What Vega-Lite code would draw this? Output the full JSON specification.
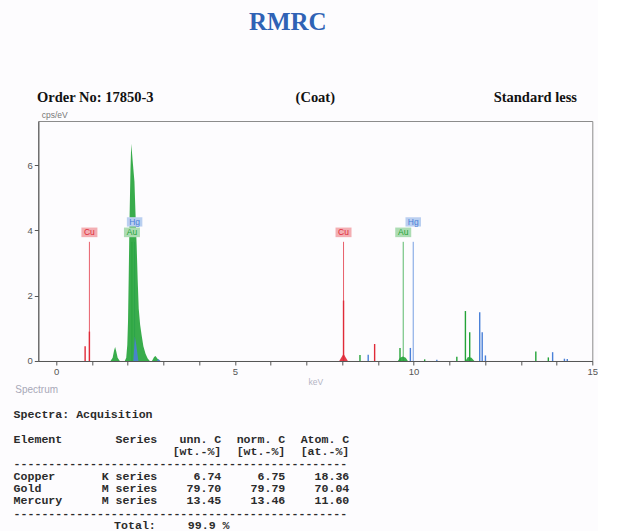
{
  "$schema": "https://vega.github.io/schema/vega-lite/v6.json",
  "background": "#fdfcfe",
  "padding": {"left": 13.3, "top": 0, "right": 0, "bottom": 0},
  "spacing": 0,
  "bounds": "flush",
  "config": {"view": {"stroke": null}, "font": "Liberation Sans"},
  "datasets": {
    "lines": [
      {"e": "Cu", "kev": 0.93},
      {"e": "Au", "kev": 2.12},
      {"e": "Hg", "kev": 2.195},
      {"e": "Cu", "kev": 8.04},
      {"e": "Au", "kev": 9.71},
      {"e": "Hg", "kev": 9.99}
    ],
    "peaks": [
      {"e": "Cu", "kev": 0.81, "cps": 0.45},
      {"e": "Cu", "kev": 0.93, "cps": 0.9},
      {"e": "Cu", "kev": 8.04, "cps": 1.85},
      {"e": "Cu", "kev": 8.91, "cps": 0.52},
      {"e": "Au", "kev": 8.5, "cps": 0.18},
      {"e": "Au", "kev": 9.62, "cps": 0.4},
      {"e": "Au", "kev": 10.31, "cps": 0.05},
      {"e": "Au", "kev": 11.21, "cps": 0.13},
      {"e": "Au", "kev": 11.45, "cps": 1.53},
      {"e": "Au", "kev": 11.57, "cps": 0.88},
      {"e": "Au", "kev": 13.42, "cps": 0.29},
      {"e": "Au", "kev": 13.77, "cps": 0.11},
      {"e": "Hg", "kev": 8.73, "cps": 0.19},
      {"e": "Hg", "kev": 9.91, "cps": 0.4},
      {"e": "Hg", "kev": 10.65, "cps": 0.04},
      {"e": "Hg", "kev": 11.85, "cps": 1.49},
      {"e": "Hg", "kev": 11.92, "cps": 0.88},
      {"e": "Hg", "kev": 12.01, "cps": 0.17},
      {"e": "Hg", "kev": 13.89, "cps": 0.27},
      {"e": "Hg", "kev": 14.22, "cps": 0.07},
      {"e": "Hg", "kev": 14.3, "cps": 0.06}
    ],
    "spec": [
      {"e": "Cu", "kev": 7.92, "cps": 0},
      {"e": "Cu", "kev": 8.04, "cps": 0.22},
      {"e": "Cu", "kev": 8.16, "cps": 0},
      {"e": "Au", "kev": 1.52, "cps": 0},
      {"e": "Au", "kev": 1.58, "cps": 0.1},
      {"e": "Au", "kev": 1.62, "cps": 0.32},
      {"e": "Au", "kev": 1.65, "cps": 0.43},
      {"e": "Au", "kev": 1.68, "cps": 0.3},
      {"e": "Au", "kev": 1.72, "cps": 0.1},
      {"e": "Au", "kev": 1.78, "cps": 0},
      {"e": "Au", "kev": 1.92, "cps": 0},
      {"e": "Au", "kev": 1.96, "cps": 0.1},
      {"e": "Au", "kev": 1.99, "cps": 0.5},
      {"e": "Au", "kev": 2.01, "cps": 1.2},
      {"e": "Au", "kev": 2.03, "cps": 2.6},
      {"e": "Au", "kev": 2.05, "cps": 4.2},
      {"e": "Au", "kev": 2.08, "cps": 5.9},
      {"e": "Au", "kev": 2.1, "cps": 6.65},
      {"e": "Au", "kev": 2.12, "cps": 6.4},
      {"e": "Au", "kev": 2.15, "cps": 6.0},
      {"e": "Au", "kev": 2.19, "cps": 5.5},
      {"e": "Au", "kev": 2.22, "cps": 4.5},
      {"e": "Au", "kev": 2.25, "cps": 3.6},
      {"e": "Au", "kev": 2.28, "cps": 2.5},
      {"e": "Au", "kev": 2.31, "cps": 1.6},
      {"e": "Au", "kev": 2.35, "cps": 1.1},
      {"e": "Au", "kev": 2.39, "cps": 0.8},
      {"e": "Au", "kev": 2.44, "cps": 0.45},
      {"e": "Au", "kev": 2.5, "cps": 0.22},
      {"e": "Au", "kev": 2.56, "cps": 0.08},
      {"e": "Au", "kev": 2.62, "cps": 0},
      {"e": "Au", "kev": 2.68, "cps": 0},
      {"e": "Au", "kev": 2.74, "cps": 0.12},
      {"e": "Au", "kev": 2.78, "cps": 0.15},
      {"e": "Au", "kev": 2.83, "cps": 0.08},
      {"e": "Au", "kev": 2.9, "cps": 0},
      {"e": "Au", "kev": 9.56, "cps": 0},
      {"e": "Au", "kev": 9.62, "cps": 0.1},
      {"e": "Au", "kev": 9.7, "cps": 0.14},
      {"e": "Au", "kev": 9.78, "cps": 0.1},
      {"e": "Au", "kev": 9.84, "cps": 0},
      {"e": "Au", "kev": 11.45, "cps": 0},
      {"e": "Au", "kev": 11.52, "cps": 0.12},
      {"e": "Au", "kev": 11.62, "cps": 0.1},
      {"e": "Au", "kev": 11.7, "cps": 0},
      {"e": "Hg", "kev": 2.16, "cps": 0},
      {"e": "Hg", "kev": 2.2, "cps": 0.75},
      {"e": "Hg", "kev": 2.24, "cps": 0.5},
      {"e": "Hg", "kev": 2.3, "cps": 0},
      {"e": "Hg", "kev": 2.82, "cps": 0},
      {"e": "Hg", "kev": 2.86, "cps": 0.06},
      {"e": "Hg", "kev": 2.92, "cps": 0}
    ],
    "tab": [
      {"Element": "Copper", "Series": "K series", "unn": 6.74, "norm": 6.75, "atom": 18.36},
      {"Element": "Gold", "Series": "M series", "unn": 79.70, "norm": 79.79, "atom": 70.04},
      {"Element": "Mercury", "Series": "M series", "unn": 13.45, "norm": 13.46, "atom": 11.60}
    ]
  },
  "vconcat": [
    {
      "width": 554,
      "height": 121,
      "layer": [
        {
          "data": {"values": [{"t": "RMRC"}]},
          "mark": {"type": "text", "font": "Liberation Serif", "fontWeight": "bold", "fontSize": 25, "color": "#2f62b5", "baseline": "alphabetic", "dx": -27.5, "dy": -30.5},
          "encoding": {"text": {"field": "t"}}
        },
        {
          "data": {"values": [{"t": "Order No: 17850-3"}, {"t": "(Coat)"}, {"t": "Standard less"}]},
          "mark": {"type": "text", "font": "Liberation Serif", "fontWeight": "bold", "fontSize": 14.5, "color": "#111111", "baseline": "alphabetic", "dy": 41},
          "encoding": {
            "x": {"field": "t", "type": "nominal", "scale": {"type": "point", "domain": ["Order No: 17850-3", "(Coat)", "Standard less"], "padding": 0.259}, "axis": null},
            "text": {"field": "t"}
          }
        }
      ]
    },
    {
      "width": 554,
      "height": 240,
      "view": {"stroke": "#8c8c8c", "strokeWidth": 1},
      "encoding": {
        "x": {
          "field": "kev", "type": "quantitative",
          "scale": {"domain": [-0.5, 15], "nice": false, "zero": false},
          "axis": {
            "title": "keV", "values": [0,1,2,3,4,5,6,7,8,9,10,11,12,13,14,15],
            "labelExpr": "datum.value % 5 === 0 ? datum.label : ''",
            "grid": false, "tickSize": 4, "labelFontSize": 9.5, "labelColor": "#555555",
            "domainColor": "#555555", "tickColor": "#555555", "labelFlush": false, "labelOverlap": false,
            "labelPadding": 2, "titleFontSize": 8.5, "titleColor": "#b4b4c4", "titleFontWeight": "normal", "titlePadding": 1
          }
        }
      },
      "layer": [
        {
          "data": {"name": "lines"},
          "mark": {"type": "rule", "strokeWidth": 1, "opacity": 0.75},
          "encoding": {
            "y": {"datum": 0, "type": "quantitative",
              "scale": {"domain": [0, 7.35], "nice": false},
              "axis": {
                "title": "cps/eV", "values": [0,0.5,1,1.5,2,2.5,3,3.5,4,4.5,5,5.5,6,6.5,7],
                "labelExpr": "datum.value % 2 === 0 ? datum.label : ''",
                "grid": false, "tickSize": 4, "labelFontSize": 9.5, "labelColor": "#555555",
                "domainColor": "#555555", "tickColor": "#555555", "labelFlush": false, "labelOverlap": false,
                "labelPadding": 2, "titleAngle": 0, "titleAlign": "left", "titleBaseline": "bottom",
                "titleX": 3, "titleY": -2, "titleFontSize": 8.5, "titleFontWeight": "normal", "titleColor": "#777777"
              }
            },
            "y2": {"datum": 3.65},
            "color": {"field": "e", "type": "nominal", "scale": {"domain": ["Cu", "Au", "Hg"], "range": ["#e02a38", "#24a338", "#4a80d8"]}, "legend": null}
          }
        },
        {
          "data": {"name": "spec"},
          "mark": {"type": "area", "opacity": 0.9, "interpolate": "linear"},
          "encoding": {
            "y": {"field": "cps", "type": "quantitative", "stack": null},
            "color": {"field": "e", "type": "nominal", "legend": null}
          }
        },
        {
          "data": {"name": "peaks"},
          "mark": {"type": "rule", "strokeWidth": 1.4},
          "encoding": {
            "y": {"field": "cps", "type": "quantitative"},
            "y2": {"datum": 0},
            "color": {"field": "e", "type": "nominal", "legend": null}
          }
        },
        {
          "data": {"name": "lines"},
          "transform": [{"filter": "datum.e !== 'Hg'"}],
          "mark": {"type": "point", "shape": "M-1,-0.6H1V0.6H-1Z", "size": 256, "filled": true, "opacity": 1, "fill": "#ffffff", "color": "#ffffff", "strokeWidth": 0},
          "encoding": {
            "y": {"datum": 3.94, "type": "quantitative"}
          }
        },
        {
          "data": {"name": "lines"},
          "transform": [{"filter": "datum.e !== 'Hg'"}],
          "mark": {"type": "point", "shape": "M-1,-0.6H1V0.6H-1Z", "size": 256, "filled": true, "opacity": 0.38, "strokeWidth": 0},
          "encoding": {
            "y": {"datum": 3.94, "type": "quantitative"},
            "color": {"field": "e", "type": "nominal", "legend": null}
          }
        },
        {
          "data": {"name": "lines"},
          "transform": [{"filter": "datum.e !== 'Hg'"}],
          "mark": {"type": "text", "fontSize": 8.5, "baseline": "middle", "align": "center"},
          "encoding": {
            "y": {"datum": 3.94, "type": "quantitative"},
            "text": {"field": "e"},
            "color": {"field": "e", "type": "nominal", "legend": null}
          }
        },
        {
          "data": {"name": "lines"},
          "transform": [{"filter": "datum.e === 'Hg'"}],
          "mark": {"type": "point", "shape": "M-1,-0.6H1V0.6H-1Z", "size": 240, "filled": true, "opacity": 1, "fill": "#ffffff", "color": "#ffffff", "strokeWidth": 0},
          "encoding": {
            "y": {"datum": 4.26, "type": "quantitative"}
          }
        },
        {
          "data": {"name": "lines"},
          "transform": [{"filter": "datum.e === 'Hg'"}],
          "mark": {"type": "point", "shape": "M-1,-0.6H1V0.6H-1Z", "size": 240, "filled": true, "opacity": 0.38, "strokeWidth": 0},
          "encoding": {
            "y": {"datum": 4.26, "type": "quantitative"},
            "color": {"field": "e", "type": "nominal", "legend": null}
          }
        },
        {
          "data": {"name": "lines"},
          "transform": [{"filter": "datum.e === 'Hg'"}],
          "mark": {"type": "text", "fontSize": 8.5, "baseline": "middle", "align": "center"},
          "encoding": {
            "y": {"datum": 4.26, "type": "quantitative"},
            "text": {"field": "e"},
            "color": {"field": "e", "type": "nominal", "legend": null}
          }
        }
      ]
    },
    {
      "width": 554,
      "height": 170,
      "layer": [
        {
          "data": {"values": [{"row": "cap", "t": "Spectrum"}]},
          "mark": {"type": "text", "font": "Liberation Sans", "fontSize": 10, "color": "#a8a8b8", "align": "left", "baseline": "middle", "dx": -142},
          "encoding": {
            "x": {"datum": "Series", "type": "nominal", "scale": {"type": "point", "domain": ["Series", "unn", "norm", "atom"], "range": [119, 311], "padding": 0}, "axis": null},
            "y": {"field": "row", "type": "nominal", "scale": {"type": "point", "domain": ["cap", "gap0", "title", "gap", "h1", "h2", "rule1", "Copper", "Gold", "Mercury", "rule2", "Total"], "range": [29.3, 165], "padding": 0}, "axis": null},
            "text": {"field": "t"}
          }
        },
        {
          "data": {"values": [
            {"row": "title", "t": "Spectra: Acquisition"},
            {"row": "h1", "t": "Element"},
            {"row": "rule1", "t": "------------------------------------------------"},
            {"row": "rule2", "t": "------------------------------------------------"}
          ]},
          "mark": {"type": "text", "font": "Liberation Mono", "fontWeight": "bold", "fontSize": 11.6, "color": "#2b2b2b", "align": "left", "baseline": "middle", "dx": -143.7},
          "encoding": {
            "x": {"datum": "Series", "type": "nominal"},
            "y": {"field": "row", "type": "nominal"},
            "text": {"field": "t"}
          }
        },
        {
          "data": {"name": "tab"},
          "mark": {"type": "text", "font": "Liberation Mono", "fontWeight": "bold", "fontSize": 11.6, "color": "#2b2b2b", "align": "left", "baseline": "middle", "dx": -143.7},
          "encoding": {
            "x": {"datum": "Series", "type": "nominal"},
            "y": {"field": "Element", "type": "nominal"},
            "text": {"field": "Element"}
          }
        },
        {
          "data": {"name": "tab"},
          "mark": {"type": "text", "font": "Liberation Mono", "fontWeight": "bold", "fontSize": 11.6, "color": "#2b2b2b", "align": "right", "baseline": "middle"},
          "encoding": {
            "x": {"datum": "Series", "type": "nominal"},
            "y": {"field": "Element", "type": "nominal"},
            "text": {"field": "Series"}
          }
        },
        {
          "data": {"name": "tab"},
          "transform": [{"fold": ["unn", "norm", "atom"], "as": ["col", "val"]}],
          "mark": {"type": "text", "font": "Liberation Mono", "fontWeight": "bold", "fontSize": 11.6, "color": "#2b2b2b", "align": "right", "baseline": "middle"},
          "encoding": {
            "x": {"field": "col", "type": "nominal"},
            "y": {"field": "Element", "type": "nominal"},
            "text": {"field": "val", "type": "quantitative", "format": ".2f"}
          }
        },
        {
          "data": {"values": [
            {"col": "Series", "h1": "Series", "h2": ""},
            {"col": "unn", "h1": "unn. C", "h2": "[wt.-%]"},
            {"col": "norm", "h1": "norm. C", "h2": "[wt.-%]"},
            {"col": "atom", "h1": "Atom. C", "h2": "[at.-%]"}
          ]},
          "mark": {"type": "text", "font": "Liberation Mono", "fontWeight": "bold", "fontSize": 11.6, "color": "#2b2b2b", "align": "right", "baseline": "middle"},
          "encoding": {
            "x": {"field": "col", "type": "nominal"},
            "y": {"datum": "h1", "type": "nominal"},
            "text": {"field": "h1"}
          }
        },
        {
          "data": {"values": [
            {"col": "Series", "h1": "Series", "h2": ""},
            {"col": "unn", "h1": "unn. C", "h2": "[wt.-%]"},
            {"col": "norm", "h1": "norm. C", "h2": "[wt.-%]"},
            {"col": "atom", "h1": "Atom. C", "h2": "[at.-%]"}
          ]},
          "mark": {"type": "text", "font": "Liberation Mono", "fontWeight": "bold", "fontSize": 11.6, "color": "#2b2b2b", "align": "right", "baseline": "middle"},
          "encoding": {
            "x": {"field": "col", "type": "nominal"},
            "y": {"datum": "h2", "type": "nominal"},
            "text": {"field": "h2"}
          }
        },
        {
          "data": {"values": [{"label": "Total:", "total": 99.9, "unit": "%"}]},
          "mark": {"type": "text", "font": "Liberation Mono", "fontWeight": "bold", "fontSize": 11.6, "color": "#2b2b2b", "align": "right", "baseline": "middle", "dx": -1.5},
          "encoding": {
            "x": {"datum": "Series", "type": "nominal"},
            "y": {"datum": "Total", "type": "nominal"},
            "text": {"field": "label"}
          }
        },
        {
          "data": {"values": [{"label": "Total:", "total": 99.9, "unit": "%"}]},
          "mark": {"type": "text", "font": "Liberation Mono", "fontWeight": "bold", "fontSize": 11.6, "color": "#2b2b2b", "align": "left", "baseline": "middle", "dx": -33.5},
          "encoding": {
            "x": {"datum": "unn", "type": "nominal"},
            "y": {"datum": "Total", "type": "nominal"},
            "text": {"field": "total", "type": "quantitative", "format": ".1f"}
          }
        },
        {
          "data": {"values": [{"label": "Total:", "total": 99.9, "unit": "%"}]},
          "mark": {"type": "text", "font": "Liberation Mono", "fontWeight": "bold", "fontSize": 11.6, "color": "#2b2b2b", "align": "left", "baseline": "middle", "dx": 1.3},
          "encoding": {
            "x": {"datum": "unn", "type": "nominal"},
            "y": {"datum": "Total", "type": "nominal"},
            "text": {"field": "unit"}
          }
        }
      ]
    }
  ]
}
